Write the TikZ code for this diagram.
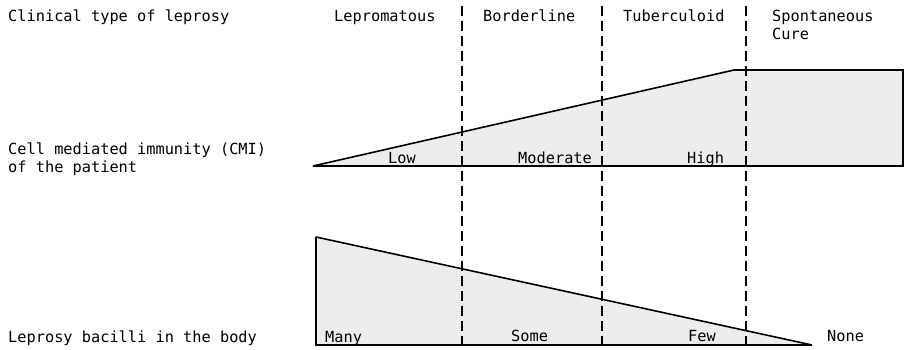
\documentclass[tikz,border=0pt]{standalone}
\usepackage{fontspec}
\setmonofont{DejaVu Sans Mono}
\begin{document}
\begin{tikzpicture}[x=1pt,y=-1pt,
  lbl/.style={anchor=base west,inner sep=0pt,font=\ttfamily\fontsize{15.3}{18}\selectfont},
  divider/.style={line width=1.4pt,dash pattern=on 10pt off 5pt},
  region/.style={fill=gray!14,draw=black,line width=1.6pt,line join=miter,miter limit=1.5}]
\useasboundingbox (0,0) rectangle (909,350);
% CMI shape
\coordinate (cA) at (313,166);
\coordinate (cB) at (734,70);
\coordinate (cC) at (903,70);
\coordinate (cD) at (903,166);
\draw[region] (cA) -- (cB) -- (cC) -- (cD) -- cycle;
% bacilli shape
\coordinate (bA) at (316,237);
\coordinate (bB) at (812,345);
\coordinate (bC) at (316,345);
\draw[region] (bA) -- (bB) -- (bC) -- cycle;
% dividers
\coordinate (d1t) at (462,6);  \coordinate (d1b) at (462,347);
\coordinate (d2t) at (602,6);  \coordinate (d2b) at (602,347);
\coordinate (d3t) at (746,6);  \coordinate (d3b) at (746,347);
\draw[divider] (d1t) -- (d1b);
\draw[divider] (d2t) -- (d2b);
\draw[divider] (d3t) -- (d3b);
% labels
\node[lbl] (t1) at (8,22) {Clinical type of leprosy};
\node[lbl] (t2) at (334,22) {Lepromatous};
\node[lbl] (t3) at (483,22) {Borderline};
\node[lbl] (t4) at (623,22) {Tuberculoid};
\node[lbl] (t5) at (772,22) {Spontaneous};
\node[lbl] (t6) at (772,40) {Cure};
\node[lbl] (t7) at (8,154) {Cell mediated immunity (CMI)};
\node[lbl] (t8) at (8,172) {of the patient};
\node[lbl] (t9) at (388,163) {Low};
\node[lbl] (t10) at (518,163) {Moderate};
\node[lbl] (t11) at (687,163) {High};
\node[lbl] (t12) at (8,342) {Leprosy bacilli in the body};
\node[lbl] (t13) at (325,342) {Many};
\node[lbl] (t14) at (511,341) {Some};
\node[lbl] (t15) at (688,341) {Few};
\node[lbl] (t16) at (827,341) {None};
\end{tikzpicture}
\end{document}
